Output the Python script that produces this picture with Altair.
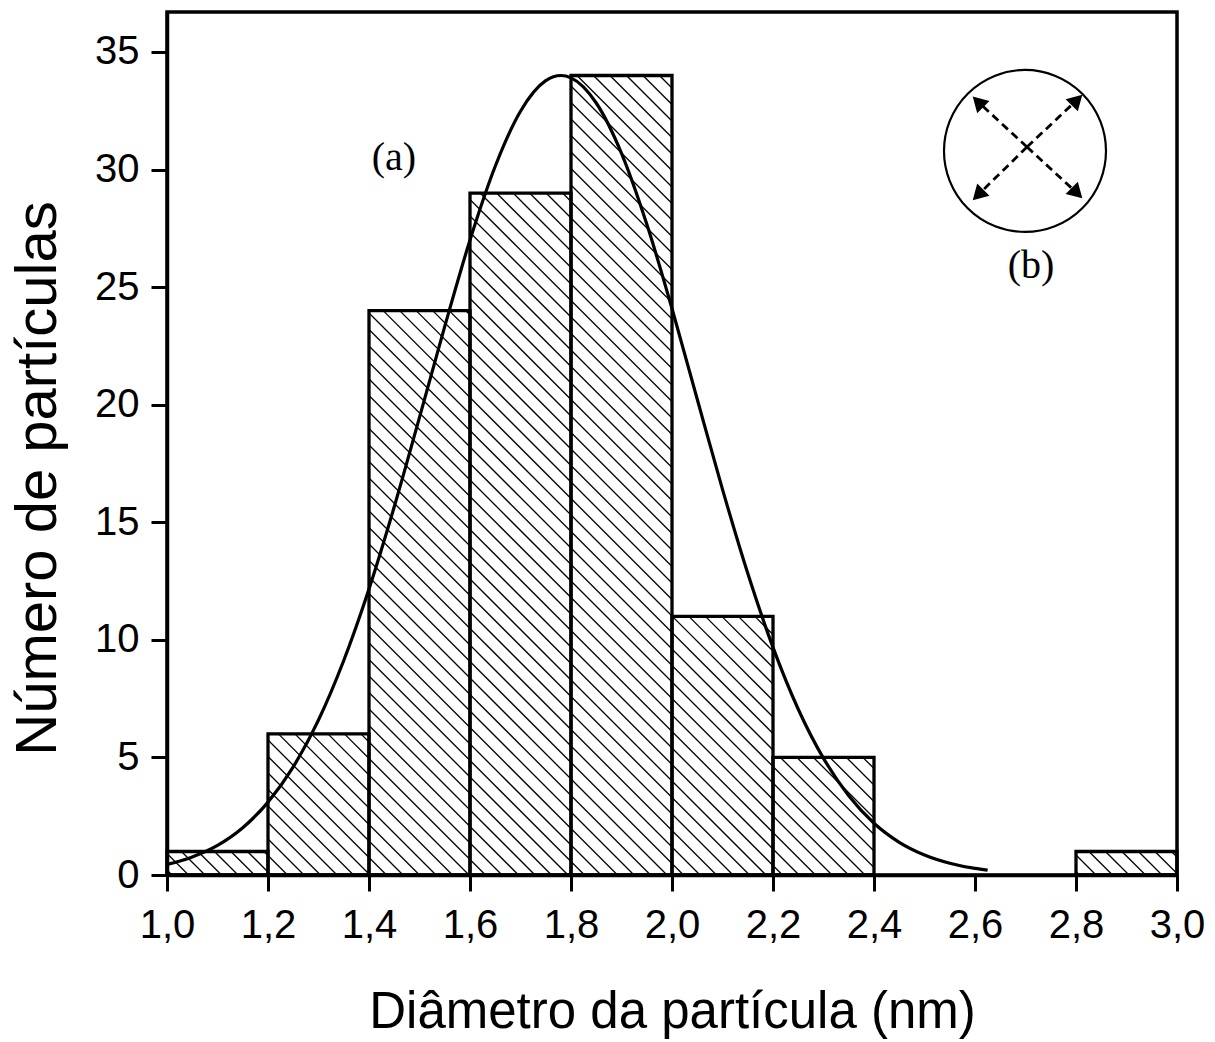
import math
import altair as alt
import pandas as pd

# Histogram of particle diameters (nm)
bin_start = [1.0, 1.2, 1.4, 1.6, 1.8, 2.0, 2.2, 2.4, 2.6, 2.8]
bin_end = [1.2, 1.4, 1.6, 1.8, 2.0, 2.2, 2.4, 2.6, 2.8, 3.0]
counts = [1, 6, 24, 29, 34, 11, 5, 0, 0, 1]

# Fitted distribution curve
fit_x = [1.00, 1.05, 1.10, 1.15, 1.20, 1.25, 1.30, 1.35, 1.40, 1.45, 1.50,
         1.55, 1.60, 1.65, 1.70, 1.75, 1.78, 1.80, 1.85, 1.90, 1.95, 2.00,
         2.05, 2.10, 2.15, 2.20, 2.25, 2.30, 2.35, 2.40, 2.45, 2.50, 2.55,
         2.60, 2.625]
fit_y = [0.45, 0.77, 1.26, 2.01, 3.10, 4.60, 6.59, 9.12, 12.16, 15.66, 19.46,
         23.33, 27.00, 30.14, 32.48, 33.78, 34.00, 33.90, 32.83, 30.69, 27.68,
         24.09, 20.23, 16.40, 12.83, 9.68, 7.05, 4.96, 3.37, 2.20, 1.39, 0.85,
         0.50, 0.28, 0.21]

x_ticks = [1.0, 1.2, 1.4, 1.6, 1.8, 2.0, 2.2, 2.4, 2.6, 2.8, 3.0]
y_ticks = [0, 5, 10, 15, 20, 25, 30, 35]

# Inset sketch: circle with a dashed cross of double arrows
circle_x = [2.699]
circle_y = [30.79]
cross_x = [2.703]
cross_y = [30.96]
head_x = [2.606, 2.802, 2.802, 2.606]
head_y = [32.88, 32.96, 29.00, 28.92]
head_angle = [315, 45, 135, 225]

label_text = ["(a)", "(b)"]
label_x = [1.4495, 2.711]
label_y = [29.98, 25.39]

W, H = 1010, 863
X_DOM = [1.0, 3.0]
Y_DOM = [0.0, 36.7]
kx = W / (X_DOM[1] - X_DOM[0])
ky = H / (Y_DOM[1] - Y_DOM[0])

# Diagonal hatching inside each bar (lines running down-right at 45 degrees)
SPACING = 16.5
hatch = []
for x0, x1, h in zip(bin_start, bin_end, counts):
    if h <= 0:
        continue
    u0, u1 = (x0 - X_DOM[0]) * kx, (x1 - X_DOM[0]) * kx
    v0, v1 = H - h * ky, H
    k_lo = math.ceil((u0 - v1) / SPACING)
    k_hi = math.floor((u1 - v0) / SPACING)
    for k in range(k_lo, k_hi + 1):
        c = k * SPACING
        ua = max(u0, v0 + c)
        ub = min(u1, v1 + c)
        if ub - ua < 0.5:
            continue
        hatch.append({
            "x": X_DOM[0] + ua / kx, "y": (H - (ua - c)) / ky,
            "x2": X_DOM[0] + ub / kx, "y2": (H - (ub - c)) / ky,
        })

bars = pd.DataFrame({"start": bin_start, "end": bin_end, "count": counts})
bars = bars[bars["count"] > 0]
fit = pd.DataFrame({"d": fit_x, "n": fit_y})
hatch_df = pd.DataFrame(hatch)
heads = pd.DataFrame({"x": head_x, "y": head_y, "a": head_angle})
arrows = pd.DataFrame({"x": cross_x * 4, "y": cross_y * 4, "x2": head_x, "y2": head_y})
circle = pd.DataFrame({"x": circle_x, "y": circle_y})
labels = pd.DataFrame({"t": label_text, "x": label_x, "y": label_y})

xs = alt.Scale(domain=X_DOM, nice=False, zero=False)
ys = alt.Scale(domain=Y_DOM, nice=False)

x_axis = alt.Axis(
    values=x_ticks,
    labelExpr="replace(format(datum.value, '.1f'), '.', ',')",
    labelFlush=False, labelOverlap=False,
    title="Diâmetro da partícula (nm)",
    titleFontSize=51, titleY=152, titleBaseline="alphabetic",
    labelPadding=14,
)
y_axis = alt.Axis(
    values=y_ticks, format="d",
    labelFlush=False, labelOverlap=False,
    title="Número de partículas",
    titleFontSize=58, titleX=-112, titleY=466, titleAngle=270,
    titleBaseline="alphabetic", titleAlign="center",
    labelPadding=12,
)


def X(field):
    return alt.X(field, scale=xs, axis=x_axis)


def Y(field):
    return alt.Y(field, scale=ys, axis=y_axis)


hatch_layer = alt.Chart(hatch_df).mark_rule(color="black", strokeWidth=1.3).encode(
    x=X("x:Q"), x2="x2:Q", y=Y("y:Q"), y2="y2:Q",
)

bar_layer = alt.Chart(bars).mark_rect(
    fillOpacity=0, stroke="black", strokeWidth=3.3
).encode(
    x=X("start:Q"), x2="end:Q", y=Y("count:Q"), y2=alt.datum(0),
)

fit_layer = alt.Chart(fit).mark_line(
    color="black", strokeWidth=3.2, interpolate="monotone"
).encode(
    x=X("d:Q"), y=Y("n:Q"),
)

circle_layer = alt.Chart(circle).mark_point(
    shape="circle", size=26244, color="black", strokeWidth=2.2, filled=False, opacity=1
).encode(
    x=X("x:Q"), y=Y("y:Q"),
)

arrow_layer = alt.Chart(arrows).mark_rule(
    color="black", strokeWidth=2.8, strokeDash=[8, 5]
).encode(
    x=X("x:Q"), x2="x2:Q", y=Y("y:Q"), y2="y2:Q",
)

head_layer = alt.Chart(heads).mark_point(
    shape="triangle-up", size=300, filled=True, color="black", opacity=1
).encode(
    x=X("x:Q"), y=Y("y:Q"),
    angle=alt.Angle("a:Q", scale=None),
)

text_layer = alt.Chart(labels).mark_text(
    font="Liberation Serif", fontSize=40, color="black",
    align="center", baseline="alphabetic"
).encode(
    x=X("x:Q"), y=Y("y:Q"), text="t:N",
)

chart = alt.layer(
    bar_layer, hatch_layer, fit_layer, circle_layer, arrow_layer, head_layer, text_layer
).properties(
    width=W, height=H,
    autosize=alt.AutoSizeParams(type="none"),
    padding={"left": 167, "top": 12, "right": 38, "bottom": 167},
    background="white",
).configure_view(
    stroke="black", strokeWidth=3.5
).configure_axis(
    grid=False,
    domainColor="black", domainWidth=3.5,
    tickColor="black", tickWidth=3, tickSize=16,
    labelColor="black", labelFont="Liberation Sans",
    labelFontSize=40,
    titleColor="black", titleFont="Liberation Sans", titleFontWeight="normal",
)

chart.save("out.html", embed_options={"renderer": "svg", "actions": False})
